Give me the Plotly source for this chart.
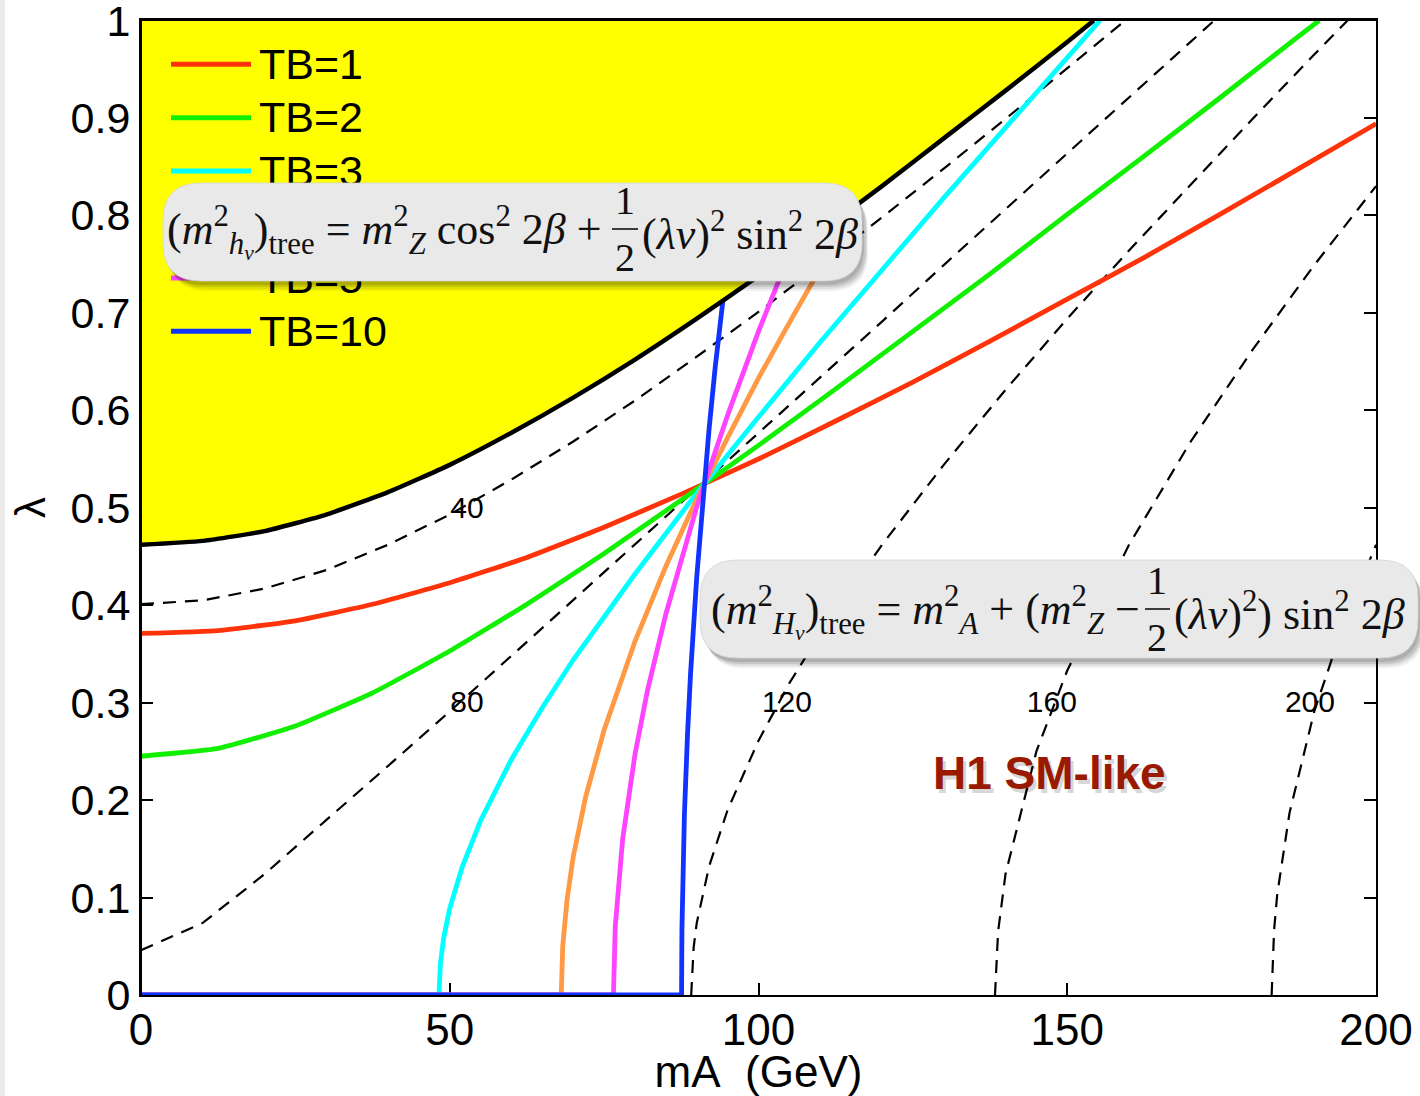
import plotly.graph_objects as go

# ---------------- data ----------------
tb_labels = ["TB=1", "TB=2", "TB=3", "TB=4", "TB=5", "TB=10"]
tb_colors = ["#ff330a", "#11f000", "#00ffff", "#ff9944", "#ff44ff", "#1133ff"]

mA_tb1 = [0, 12.5, 25, 37.5, 50, 62.5, 75, 87.5, 100, 112.5, 125, 137.5, 150, 162.5, 175, 187.5, 200]
lam_tb1 = [0.371, 0.374, 0.384, 0.401, 0.423, 0.449, 0.480, 0.514, 0.550, 0.589, 0.629, 0.671, 0.714, 0.757, 0.802, 0.848, 0.894]

mA_tb2 = [0, 12.5, 25, 37.5, 50, 62.5, 75, 87.5, 100, 112.5, 125, 137.5, 150, 162.5, 175, 187.5, 190.8]
lam_tb2 = [0.245, 0.253, 0.276, 0.310, 0.353, 0.401, 0.453, 0.508, 0.564, 0.622, 0.681, 0.740, 0.801, 0.861, 0.922, 0.984, 1.0]

mA_tb3 = [0, 48.25, 48.5, 49, 50, 52, 55, 60, 65, 70, 80, 90, 100, 110, 120, 130, 140, 150, 155.3]
lam_tb3 = [0, 0, 0.033, 0.058, 0.089, 0.131, 0.179, 0.242, 0.295, 0.344, 0.432, 0.515, 0.593, 0.670, 0.744, 0.818, 0.890, 0.962, 1.0]

mA_tb4 = [0, 68.05, 68.3, 69, 70, 72, 75, 80, 85, 90, 95, 100, 105, 110, 115, 120, 125, 130, 134.3]
lam_tb4 = [0, 0, 0.050, 0.098, 0.142, 0.203, 0.272, 0.363, 0.440, 0.509, 0.572, 0.633, 0.690, 0.746, 0.801, 0.853, 0.906, 0.957, 1.0]

mA_tb5 = [0, 76.51, 76.8, 77.5, 78, 80, 82, 85, 90, 95, 100, 105, 110, 115, 120, 121.7]
lam_tb5 = [0, 0, 0.070, 0.130, 0.160, 0.247, 0.312, 0.391, 0.501, 0.595, 0.681, 0.760, 0.835, 0.908, 0.977, 1.0]

mA_tb10 = [0, 87.54, 87.6, 87.8, 88, 88.5, 89, 90, 91, 92, 93, 94, 95, 96, 98, 100, 100.1]
lam_tb10 = [0, 0, 0.067, 0.139, 0.185, 0.267, 0.330, 0.429, 0.510, 0.581, 0.645, 0.703, 0.758, 0.809, 0.905, 0.993, 1.0]

# excluded (yellow) region boundary
mA_bound = [0, 10, 20, 30, 40, 50, 60, 70, 80, 90, 100, 110, 120, 130, 140, 150, 154.3]
lam_bound = [0.462, 0.466, 0.476, 0.493, 0.516, 0.544, 0.577, 0.613, 0.652, 0.694, 0.738, 0.783, 0.830, 0.879, 0.928, 0.978, 1.0]

# dashed mass contours (GeV)
contour_values = [40, 80, 120, 160, 200]
mA_c40 = [0, 10, 20, 30, 40, 50, 60, 70, 80, 90, 100, 110, 120, 130, 140, 150, 159.4]
lam_c40 = [0.401, 0.405, 0.417, 0.436, 0.462, 0.493, 0.529, 0.568, 0.610, 0.655, 0.701, 0.749, 0.798, 0.848, 0.899, 0.951, 1.0]
mA_c80 = [0, 10, 20, 30, 40, 50, 60, 70, 80, 90, 100, 110, 120, 130, 140, 150, 160, 173.8]
lam_c80 = [0.046, 0.074, 0.124, 0.179, 0.235, 0.291, 0.348, 0.405, 0.462, 0.519, 0.577, 0.634, 0.691, 0.749, 0.806, 0.864, 0.921, 1.0]
mA_c120 = [89.1, 89.5, 90, 92, 95, 100, 105, 110, 120, 130, 140, 150, 160, 170, 180, 190, 195.4]
lam_c120 = [0, 0.049, 0.074, 0.132, 0.190, 0.261, 0.320, 0.371, 0.462, 0.544, 0.621, 0.694, 0.764, 0.832, 0.899, 0.965, 1.0]
mA_c160 = [138.3, 138.8, 140, 145, 150, 160, 170, 180, 190, 200]
lam_c160 = [0, 0.065, 0.124, 0.250, 0.333, 0.462, 0.568, 0.662, 0.749, 0.830]
mA_c200 = [183.1, 183.5, 184, 186, 190, 195, 200]
lam_c200 = [0, 0.067, 0.103, 0.187, 0.291, 0.385, 0.462]

# contour label positions (mA, lambda)
label_mA = [52.8, 52.8, 104.6, 147.5, 189.3]
label_lam = [0.497, 0.298, 0.298, 0.298, 0.298]

x_ticks = [0, 50, 100, 150, 200]
y_ticks = [0, 0.1, 0.2, 0.3, 0.4, 0.5, 0.6, 0.7, 0.8, 0.9, 1]
y_ticktext = ["0", "0.1", "0.2", "0.3", "0.4", "0.5", "0.6", "0.7", "0.8", "0.9", "1"]

# ---------------- layout helpers ----------------
L, R, T, B = 141, 1376, 20, 995
W, H = 1420, 1096
Y_TOP = 1.0005  # tiny headroom so the top tick is kept


def px_x(p):
    return (p - L) / (R - L)


def px_y(p):
    return (B - p) / (B - T)


def d_x(p):
    return (p - L) / (R - L) * 200.0


def d_y(p):
    return (B - p) / (B - T) * Y_TOP


def rounded(x0, y0, x1, y1, r, dx=0, dy=0):
    x0 += dx; x1 += dx; y0 += dy; y1 += dy
    X = lambda v: f"{px_x(v):.5f}"
    Y = lambda v: f"{px_y(v):.5f}"
    return (f"M {X(x0 + r)},{Y(y0)} L {X(x1 - r)},{Y(y0)} Q {X(x1)},{Y(y0)} {X(x1)},{Y(y0 + r)} "
            f"L {X(x1)},{Y(y1 - r)} Q {X(x1)},{Y(y1)} {X(x1 - r)},{Y(y1)} "
            f"L {X(x0 + r)},{Y(y1)} Q {X(x0)},{Y(y1)} {X(x0)},{Y(y1 - r)} "
            f"L {X(x0)},{Y(y0 + r)} Q {X(x0)},{Y(y0)} {X(x0 + r)},{Y(y0)} Z")


fig = go.Figure()

curves = [(mA_tb1, lam_tb1), (mA_tb2, lam_tb2), (mA_tb3, lam_tb3),
          (mA_tb4, lam_tb4), (mA_tb5, lam_tb5), (mA_tb10, lam_tb10)]
contours = [(mA_c40, lam_c40), (mA_c80, lam_c80), (mA_c120, lam_c120),
            (mA_c160, lam_c160), (mA_c200, lam_c200)]

for (xs, ys), v in zip(contours, contour_values):
    fig.add_trace(go.Scatter(x=xs, y=ys, mode="lines", name=f"{v} GeV",
                             line=dict(color="black", width=2.2, dash="13px,9px"),
                             showlegend=False, hoverinfo="skip"))

for i, ((xs, ys), name, col) in enumerate(zip(curves, tb_labels, tb_colors)):
    shape = "spline" if i < 2 else "linear"
    fig.add_trace(go.Scatter(x=xs, y=ys, mode="lines", name=name,
                             line=dict(color=col, width=4.8, shape=shape, smoothing=0.4),
                             showlegend=False, hoverinfo="skip"))

# yellow excluded region (drawn over the curves)
fig.add_trace(go.Scatter(x=mA_bound + [0, 0], y=lam_bound + [Y_TOP, Y_TOP], mode="lines", fill="toself",
                         fillcolor="#ffff00", line=dict(width=0, color="#ffff00"),
                         showlegend=False, hoverinfo="skip"))
fig.add_trace(go.Scatter(x=mA_bound, y=lam_bound, mode="lines",
                         line=dict(color="black", width=4.5, shape="spline", smoothing=0.5),
                         showlegend=False, hoverinfo="skip"))

# contour labels
fig.add_trace(go.Scatter(x=label_mA, y=label_lam, mode="text",
                         text=[str(v) for v in contour_values],
                         textfont=dict(family="Liberation Sans, Arial, sans-serif", size=30, color="black"),
                         showlegend=False, hoverinfo="skip"))

# manual legend (inside the plot, beneath the formula box)
leg_y = [64.3, 117.7, 171.1, 224.5, 277.9, 331.3]
for name, col, yy in zip(tb_labels, tb_colors, leg_y):
    fig.add_trace(go.Scatter(x=[d_x(171), d_x(251)], y=[d_y(yy), d_y(yy)], mode="lines",
                             line=dict(color=col, width=5), showlegend=False, hoverinfo="skip"))
fig.add_trace(go.Scatter(x=[d_x(259)] * 6, y=[d_y(yy + 4) for yy in leg_y], mode="text",
                         text=tb_labels, textposition="middle right",
                         textfont=dict(family="Liberation Sans, Arial, sans-serif", size=43, color="black"),
                         showlegend=False, hoverinfo="skip"))

shapes = []
# light-grey strip at the far left of the page
shapes.append(dict(type="rect", xref="paper", yref="paper", x0=px_x(-20), x1=px_x(5),
                   y0=px_y(1200), y1=px_y(-50), line=dict(width=0), fillcolor="#ebebeb", layer="above"))
# left and top frame edges (kept visible over the yellow region)
shapes.append(dict(type="path", xref="paper", yref="paper", path="M 0,0 L 0,1 L 1,1",
                   line=dict(color="black", width=2), layer="above"))

boxes = [(163, 183, 862, 281), (700, 560, 1418, 658)]
for (x0, y0, x1, y1) in boxes:
    for (dx, dy, a) in [(6, 10, 0.06), (5, 8, 0.08), (4, 6, 0.10), (2, 4, 0.12)]:
        shapes.append(dict(type="path", xref="paper", yref="paper", path=rounded(x0, y0, x1, y1, 38, dx, dy),
                           line=dict(width=0), fillcolor=f"rgba(0,0,0,{a})", layer="above"))
    shapes.append(dict(type="path", xref="paper", yref="paper", path=rounded(x0, y0, x1, y1, 38),
                       line=dict(width=0.8, color="#d4d4d4"), fillcolor="#e9e9e9", layer="above"))

# fraction bars
for (xa, xb, yb) in [(612, 638, 229), (1145, 1170, 609)]:
    shapes.append(dict(type="line", xref="paper", yref="paper", x0=px_x(xa), x1=px_x(xb),
                       y0=px_y(yb), y1=px_y(yb), line=dict(color="#111", width=1.6), layer="above"))

mfont = dict(family="Liberation Serif, DejaVu Serif, serif", size=44, color="#111")
ffont = dict(family="Liberation Serif, DejaVu Serif, serif", size=40, color="#111")

annotations = []


def ann(px, py, text, xanchor="center", font=mfont):
    annotations.append(dict(xref="paper", yref="paper", x=px_x(px), y=px_y(py), text=text,
                            showarrow=False, xanchor=xanchor, yanchor="middle", font=font))


ann(604, 232, "(<i>m</i><sup>2</sup><sub><i>h</i><sub><i>v</i></sub></sub>)<sub>tree</sub> = "
              "<i>m</i><sup>2</sup><sub><i>Z</i></sub> cos<sup>2</sup> 2<i>β</i> +", "right")
ann(625, 200, "1", font=ffont)
ann(625, 257, "2", font=ffont)
ann(640, 232, "(<i>λv</i>)<sup>2</sup> sin<sup>2</sup> 2<i>β</i>", "left")

ann(1142, 612, "(<i>m</i><sup>2</sup><sub><i>H</i><sub><i>v</i></sub></sub>)<sub>tree</sub> = "
               "<i>m</i><sup>2</sup><sub><i>A</i></sub> + (<i>m</i><sup>2</sup><sub><i>Z</i></sub> −", "right")
ann(1157, 580, "1", font=ffont)
ann(1157, 637, "2", font=ffont)
ann(1172, 612, "(<i>λv</i>)<sup>2</sup>) sin<sup>2</sup> 2<i>β</i>", "left")

# "H1 SM-like" with soft shadow
for (dx, dy, col) in [(3, 4, "rgba(0,0,0,0.18)"), (0, 0, "#991a00")]:
    annotations.append(dict(xref="paper", yref="paper", x=px_x(1049 + dx), y=px_y(773 + dy),
                            text="<b>H1 SM-like</b>", showarrow=False, xanchor="center", yanchor="middle",
                            font=dict(family="Liberation Sans, Arial, sans-serif", size=46, color=col)))

fig.update_layout(
    width=W, height=H, autosize=False,
    margin=dict(l=L, r=W - R, t=T, b=H - B, pad=0, autoexpand=False),
    paper_bgcolor="white", plot_bgcolor="white",
    shapes=shapes, annotations=annotations,
    xaxis=dict(range=[0, 200], tickvals=x_ticks, ticks="inside", ticklen=12, tickwidth=1.5,
               tickcolor="black", showgrid=False, zeroline=False, showline=True, linecolor="black",
               linewidth=2, mirror="ticks", layer="below traces", automargin=False,
               ticklabeloverflow="allow",
               tickfont=dict(family="Liberation Sans, Arial, sans-serif", size=44, color="black"),
               ticklabelstandoff=-5,
               title=dict(text="mA\u00a0\u00a0(GeV)", standoff=9,
                          font=dict(family="Liberation Sans, Arial, sans-serif", size=44, color="black"))),
    yaxis=dict(range=[0, Y_TOP], tickvals=y_ticks, ticktext=y_ticktext, ticks="inside", ticklen=12,
               tickwidth=1.5, tickcolor="black", showgrid=False, zeroline=False, showline=True,
               linecolor="black", linewidth=2, mirror="ticks", layer="below traces", automargin=False,
               ticklabeloverflow="allow",
               tickfont=dict(family="Liberation Sans, Arial, sans-serif", size=43, color="black"),
               ticklabelstandoff=0,
               title=dict(text="λ", standoff=12,
                          font=dict(family="Liberation Sans, Arial, sans-serif", size=42, color="black"))),
)

fig.write_html("out.html", config={"displayModeBar": False},
               post_script="document.body.style.margin='0';document.body.style.overflow='hidden';")
